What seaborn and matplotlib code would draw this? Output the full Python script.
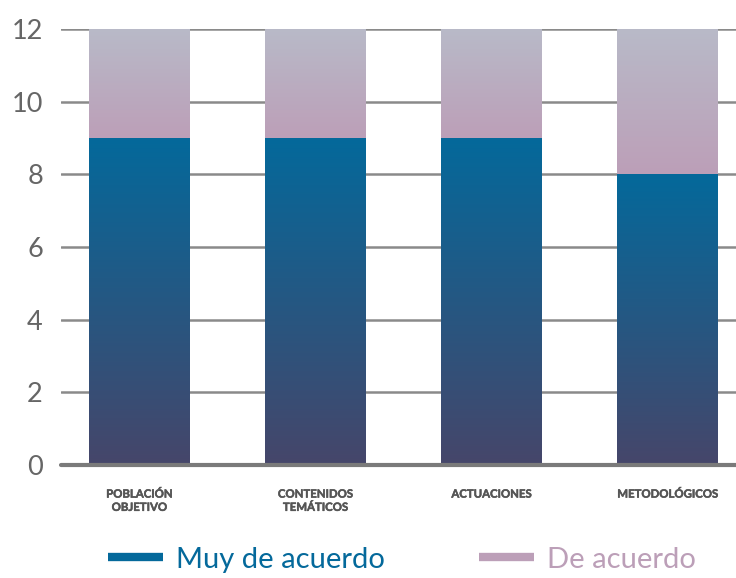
import numpy as np
import pandas as pd
import matplotlib
matplotlib.use("Agg")
import matplotlib.pyplot as plt
import matplotlib.patheffects as pe
from matplotlib.colors import LinearSegmentedColormap
from matplotlib.lines import Line2D
import seaborn as sns

categories = ["POBLACIÓN\nOBJETIVO", "CONTENIDOS\nTEMÁTICOS", "ACTUACIONES", "METODOLÓGICOS"]
muy_de_acuerdo = [9, 9, 9, 8]
de_acuerdo = [3, 3, 3, 4]
series_names = ["Muy de acuerdo", "De acuerdo"]
y_ticks = [0, 2, 4, 6, 8, 10, 12]

blue_top, blue_bottom = "#04699B", "#46466A"
pink_bottom, pink_top = "#BC9FB8", "#B8BAC8"

sns.set_theme(style="white")
plt.rcParams["font.family"] = ["Lato", "DejaVu Sans"]

df = pd.DataFrame({"cat": categories, "muy": muy_de_acuerdo,
                   "total": np.array(muy_de_acuerdo) + np.array(de_acuerdo)})

fig = plt.figure(figsize=(7.36, 5.78), dpi=100)
ax = fig.add_axes([61 / 736, 113 / 578, 1 - 61 / 736, (465 - 29) / 578])

width = 0.57
sns.barplot(data=df, x="cat", y="total", ax=ax, color=pink_bottom, width=width,
            saturation=1, zorder=2)
n = len(categories)
sns.barplot(data=df, x="cat", y="muy", ax=ax, color=blue_top, width=width,
            saturation=1, zorder=3)

cmap_blue = LinearSegmentedColormap.from_list("b", [blue_bottom, blue_top])
cmap_pink = LinearSegmentedColormap.from_list("p", [pink_bottom, pink_top])
grad = np.linspace(0, 1, 256).reshape(-1, 1)
patches = list(ax.patches)
for i, p in enumerate(patches):
    x0, y0 = p.get_x(), p.get_y()
    w, h = p.get_width(), p.get_height()
    if i < n:
        # upper segment: the part above the "muy de acuerdo" value
        lower = muy_de_acuerdo[i]
        ext = [x0, x0 + w, lower, y0 + h]
        cmap = cmap_pink
        z = 2.5
    else:
        ext = [x0, x0 + w, y0, y0 + h]
        cmap = cmap_blue
        z = 3.5
    ax.imshow(grad, extent=ext, origin="lower", aspect="auto", cmap=cmap,
              zorder=z, interpolation="bicubic")
    p.set_visible(False)

ax.set_xlim(-0.444, 3.39)
ax.set_ylim(0, 12)
ax.set_yticks(y_ticks)
ax.set_yticklabels([str(t) for t in y_ticks], fontsize=19.5, color="#666666")
ax.set_xticks(range(n))
ax.set_xticklabels(categories, fontsize=8.2, fontweight="bold", color="#555555",
                   linespacing=1.25)
for lbl in ax.get_xticklabels():
    lbl.set_path_effects([pe.withStroke(linewidth=0.35, foreground="#555555")])
ax.tick_params(axis="x", length=0, pad=17)
ax.tick_params(axis="y", length=0, pad=13)
ax.set_xlabel("")
ax.set_ylabel("")
for s in ax.spines.values():
    s.set_visible(False)
for t in y_ticks[1:]:
    ax.axhline(t, color="#8a8a8a", lw=1.8, zorder=1)
ax.axhline(0, color="#7a7a7a", lw=3, zorder=5, clip_on=False)

handles = [Line2D([0], [0], color=blue_top, lw=6, solid_capstyle="butt"),
           Line2D([0], [0], color=pink_bottom, lw=6, solid_capstyle="butt")]
leg = fig.legend(handles, series_names, loc="lower center", ncol=2,
                 bbox_to_anchor=(0.546, -0.036), frameon=False, fontsize=21,
                 handlelength=1.9, handletextpad=0.45, columnspacing=3.2)
for txt, c in zip(leg.get_texts(), [blue_top, pink_bottom]):
    txt.set_color(c)

fig.savefig("out.png", dpi=100)
